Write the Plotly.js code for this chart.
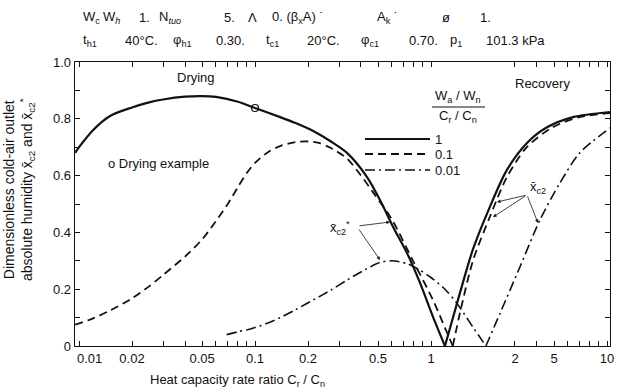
<!DOCTYPE html>
<html>
<head>
<meta charset="utf-8">
<script src="https://cdn.plot.ly/plotly-3.0.1.min.js"></script>
<style>html,body{margin:0;padding:0;background:#fff;}#chart{width:617px;height:389px;}</style>
</head>
<body>
<div id="chart"></div>
<script>
// ---- Data ----
// W_a/W_n / (C_r/C_n) = 1  (solid)
const solidLeftX  = [0.0095, 0.01, 0.012, 0.015, 0.02, 0.025, 0.03, 0.04, 0.05, 0.06, 0.08, 0.1, 0.139, 0.17, 0.214, 0.27, 0.333, 0.433, 0.513, 0.608, 0.731, 0.866, 1.03, 1.2];
const solidLeftY  = [0.68, 0.70, 0.76, 0.81, 0.84, 0.858, 0.868, 0.878, 0.88, 0.877, 0.86, 0.838, 0.806, 0.785, 0.757, 0.72, 0.68, 0.595, 0.514, 0.42, 0.327, 0.222, 0.10, 0.0];
const solidRightX = [1.2, 1.46, 1.73, 2.16, 2.7, 3.51, 4.56, 6.41, 10.4];
const solidRightY = [0.0, 0.187, 0.34, 0.49, 0.62, 0.715, 0.77, 0.806, 0.824];
// = 0.1 (dashed)
const dashLeftX  = [0.0095, 0.012, 0.015, 0.02, 0.025, 0.03, 0.04, 0.05, 0.06, 0.07, 0.08, 0.09, 0.1, 0.12, 0.14, 0.17, 0.2, 0.23, 0.27, 0.333, 0.4, 0.47, 0.6, 0.79, 1.03, 1.2, 1.33];
const dashLeftY  = [0.075, 0.097, 0.125, 0.168, 0.21, 0.25, 0.315, 0.375, 0.44, 0.50, 0.56, 0.61, 0.645, 0.685, 0.705, 0.718, 0.72, 0.715, 0.697, 0.66, 0.60, 0.54, 0.445, 0.30, 0.16, 0.064, 0.0];
const dashRightX = [1.33, 1.46, 1.73, 2.16, 2.7, 3.5, 4.9, 7.0, 10.4];
const dashRightY = [0.0, 0.116, 0.30, 0.455, 0.595, 0.70, 0.77, 0.806, 0.82];
// = 0.01 (dash-dot)
const ddLeftX  = [0.069, 0.08, 0.094, 0.115, 0.139, 0.17, 0.214, 0.27, 0.333, 0.42, 0.513, 0.6, 0.73, 0.85, 0.99, 1.2, 1.4, 1.73, 2.05];
const ddLeftY  = [0.04, 0.05, 0.06, 0.078, 0.10, 0.128, 0.162, 0.197, 0.232, 0.268, 0.294, 0.30, 0.29, 0.27, 0.243, 0.20, 0.151, 0.067, 0.0];
const ddRightX = [2.05, 2.47, 3.2, 4.16, 5.4, 7.0, 10.4];
const ddRightY = [0.0, 0.116, 0.278, 0.444, 0.574, 0.68, 0.768];
// Drying example point
const exampleX = [0.1];
const exampleY = [0.838];

// Axis ticks (the "0.01" label is drawn just right of the axis corner, as in the reference)
const xTickVals  = [0.02, 0.05, 0.1, 0.2, 0.5, 1, 3, 5, 10];
const xTickText  = ["0.02","0.05","0.1","0.2","0.5","1","2","5","10"];
const xMinorVals = [0.01,0.03,0.04,0.06,0.07,0.08,0.09,0.3,0.4,0.6,0.7,0.8,0.9,4,6,7,8,9];
const firstXLabel = "0.01";
const yTickVals  = [0, 0.2, 0.4, 0.6, 0.8, 1.0];
const yTickText  = ["0","0.2","0.4","0.6","0.8","1.0"];
const yMinorVals = [0.1, 0.3, 0.5, 0.7, 0.9];

const legendLabels = ["1", "0.1", "0.01"];

// header text pieces
const header1 = [["W<sub>c</sub>",81],["W<sub><i>h</i></sub>",101],["1.",137],["N<sub><i>tuo</i></sub>",157],["5.",222],["Λ",246],["0. (β<sub>x</sub>A) ˙",270],["A<sub>k</sub> ˙",375],["ø",440],["1.",478]];
const header2 = [["t<sub>h1</sub>",81],["40°C.",123],["φ<sub>h1</sub>",171],["0.30.",214],["t<sub>c1</sub>",264],["20°C.",305],["φ<sub>c1</sub>",359],["0.70.",407],["p<sub>1</sub>",448],["101.3 kPa",484]];

// ---- Layout helpers (pixel -> paper) ----
const L = 75, R = 610, T = 62, B = 346;
const PX = p => (p - L) / (R - L);
const PY = p => (B - p) / (B - T);
const FONT = "Liberation Sans, Arial, Helvetica, sans-serif";
const INK = "#111";

const solidLine = {color: INK, width: 2.2};
const dashLine  = {color: INK, width: 1.8, dash: "8px,5px"};
const ddLine    = {color: INK, width: 1.6, dash: "10px,4px,2px,4px"};

const traces = [
  {x: solidLeftX, y: solidLeftY, mode: "lines", line: Object.assign({shape:"spline", smoothing:0.8}, solidLine), name: "1", showlegend: false},
  {x: solidRightX, y: solidRightY, mode: "lines", line: Object.assign({shape:"spline", smoothing:0.8}, solidLine), name: "1", showlegend: false},
  {x: dashLeftX, y: dashLeftY, mode: "lines", line: Object.assign({shape:"spline", smoothing:0.8}, dashLine), name: "0.1", showlegend: false},
  {x: dashRightX, y: dashRightY, mode: "lines", line: Object.assign({shape:"spline", smoothing:0.8}, dashLine), name: "0.1", showlegend: false},
  {x: ddLeftX, y: ddLeftY, mode: "lines", line: Object.assign({shape:"spline", smoothing:0.8}, ddLine), name: "0.01", showlegend: false},
  {x: ddRightX, y: ddRightY, mode: "lines", line: Object.assign({shape:"spline", smoothing:0.8}, ddLine), name: "0.01", showlegend: false},
  {x: exampleX, y: exampleY, mode: "markers", marker: {symbol: "circle-open", size: 7, color: INK, line: {width: 1.2, color: INK}}, showlegend: false}
];

const annotations = [];
function txt(text, px, py, size, anchor) {
  annotations.push({text: text, xref: "paper", yref: "paper", x: PX(px), y: PY(py),
    xanchor: anchor || "left", yanchor: "middle", showarrow: false,
    font: {family: FONT, size: size || 13, color: INK}});
}
header1.forEach(h => txt(h[0], h[1], 18, 13));
header2.forEach(h => txt(h[0], h[1], 40, 13));

txt(firstXLabel, 89, 358, 13, "center");

txt("Drying", 196, 77, 13, "center");
txt("Recovery", 542, 83, 13, "center");
txt("o Drying example", 106, 163, 13, "left");

// legend title (fraction)
txt("W<sub>a</sub> / W<sub>n</sub>", 458, 97, 13, "center");
txt("C<sub>r</sub> / C<sub>n</sub>", 458, 116, 13, "center");
// legend labels
const legendRows = [139, 154, 170];
legendLabels.forEach((t, i) => txt(t, 433, legendRows[i], 13, "left"));

// annotation labels
txt("x\u0304<sub>c2</sub><sup>*</sup>", 340, 228, 13, "center");
txt("x\u0304<sub>c2</sub>", 538, 187, 13, "center");

function arrow(tx, ty, hx, hy) {
  annotations.push({text: "", xref: "paper", yref: "paper", x: PX(hx), y: PY(hy),
    ax: tx - hx, ay: ty - hy, showarrow: true, arrowhead: 2, arrowsize: 0.9, arrowwidth: 0.8,
    arrowcolor: INK, standoff: 0, startstandoff: 0});
}
arrow(358, 226, 390, 222);
arrow(358, 228, 380, 260);
arrow(527, 195, 497, 202);
arrow(527, 195, 493, 217);
arrow(527, 195, 538, 223);

// axis titles
annotations.push({text: "Dimensionless cold-air outlet<br>absolute humidity x\u0304<sub>c2</sub> and x\u0304<sub>c2</sub><sup>*</sup>",
  xref: "paper", yref: "paper", x: PX(19), y: PY(190), textangle: -90, showarrow: false,
  xanchor: "center", yanchor: "middle", align: "center",
  font: {family: FONT, size: 14, color: INK}});
annotations.push({text: "Heat capacity rate ratio C<sub>r</sub> / C<sub>n</sub>",
  xref: "paper", yref: "paper", x: PX(148), y: PY(380), xanchor: "left", yanchor: "middle",
  showarrow: false, font: {family: FONT, size: 13, color: INK}});

const shapes = [
  // fraction bar
  {type: "line", xref: "paper", yref: "paper", x0: PX(432), x1: PX(485), y0: PY(107), y1: PY(107), line: {color: INK, width: 1}},
  // legend samples
  {type: "line", xref: "paper", yref: "paper", x0: PX(365), x1: PX(430), y0: PY(139), y1: PY(139), line: {color: INK, width: 2.2}},
  {type: "line", xref: "paper", yref: "paper", x0: PX(365), x1: PX(430), y0: PY(154), y1: PY(154), line: {color: INK, width: 1.8, dash: "8px,5px"}},
  {type: "line", xref: "paper", yref: "paper", x0: PX(365), x1: PX(430), y0: PY(170), y1: PY(170), line: {color: INK, width: 1.6, dash: "10px,4px,2px,4px"}}
];

const layout = {
  width: 617, height: 389,
  margin: {l: L, r: 617 - R, t: T, b: 389 - B, pad: 0},
  paper_bgcolor: "#fff", plot_bgcolor: "#fff",
  showlegend: false,
  font: {family: FONT, size: 13, color: INK},
  xaxis: {
    type: "log", range: [-2.023, 1.017],
    tickmode: "array", tickvals: xTickVals, ticktext: xTickText,
    ticks: "inside", ticklen: 5, tickwidth: 1, tickcolor: INK,
    minor: {tickmode: "array", tickvals: xMinorVals, ticks: "inside", ticklen: 5, tickwidth: 1, tickcolor: INK, showgrid: false},
    showline: true, linecolor: INK, linewidth: 1.3, mirror: "ticks",
    showgrid: false, zeroline: false,
    tickfont: {family: FONT, size: 13, color: INK}
  },
  yaxis: {
    range: [0, 1.0],
    tickmode: "array", tickvals: yTickVals, ticktext: yTickText,
    ticks: "inside", ticklen: 5, tickwidth: 1, tickcolor: INK,
    minor: {tickmode: "array", tickvals: yMinorVals, ticks: "inside", ticklen: 5, tickwidth: 1, tickcolor: INK, showgrid: false},
    showline: true, linecolor: INK, linewidth: 1.3, mirror: "ticks",
    showgrid: false, zeroline: false,
    tickfont: {family: FONT, size: 13, color: INK}
  },
  annotations: annotations,
  shapes: shapes
};

Plotly.newPlot("chart", traces, layout, {staticPlot: true, displayModeBar: false});
</script>
</body>
</html>
